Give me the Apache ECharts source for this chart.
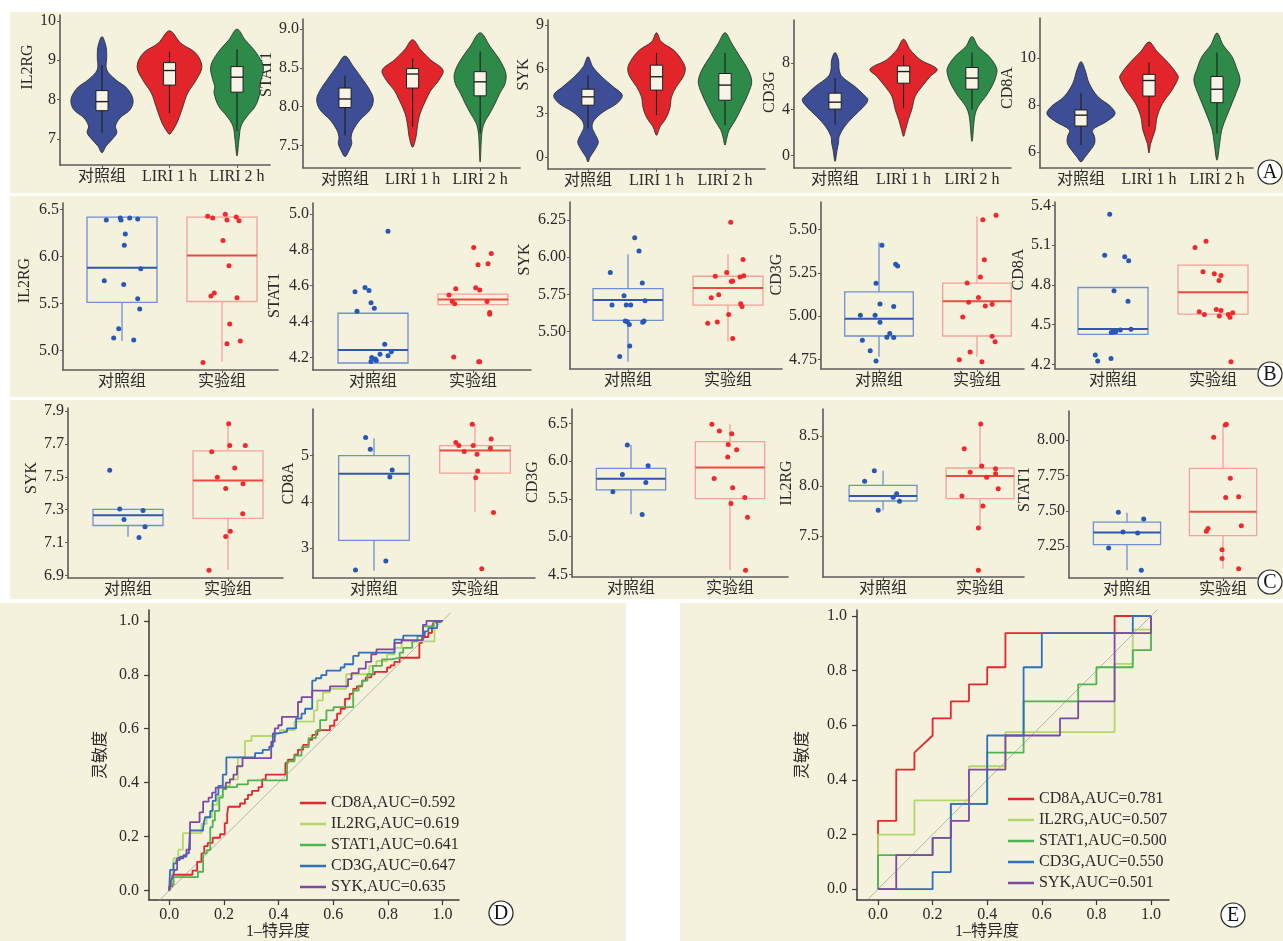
<!DOCTYPE html>
<html>
<head>
<meta charset="utf-8">
<script src="https://cdn.jsdelivr.net/npm/echarts@6/dist/echarts.min.js"></script>
<style>
html, body { margin: 0; padding: 0; background: #ffffff; }
#chart { width: 1283px; height: 941px; }
</style>
</head>
<body>
<div id="chart"></div>
<script>
// ---------------- data ----------------
const groupsA = ['对照组', 'LIRI 1 h', 'LIRI 2 h'];
const groupsBC = ['对照组', '实验组'];
const genesA = ['IL2RG', 'STAT1', 'SYK', 'CD3G', 'CD8A'];
const genesB = ['IL2RG', 'STAT1', 'SYK', 'CD3G', 'CD8A'];
const genesC = ['SYK', 'CD8A', 'CD3G', 'IL2RG', 'STAT1'];

// y tick labels per panel
const yTicksA = [[7, 8, 9, 10], [7.5, 8, 8.5, 9], [0, 3, 6, 9], [0, 4, 8], [6, 8, 10]];
const yTicksB = [[5, 5.5, 6, 6.5], [4.2, 4.4, 4.6, 4.8, 5.0], [5.5, 5.75, 6, 6.25], [4.75, 5, 5.25, 5.5], [4.2, 4.5, 4.8, 5.1, 5.4]];
const yTicksC = [[6.9, 7.1, 7.3, 7.5, 7.7, 7.9], [3, 4, 5], [4.5, 5, 5.5, 6, 6.5], [7.5, 8, 8.5], [7.25, 7.5, 7.75, 8]];
const rocTicks = [0, 0.2, 0.4, 0.6, 0.8, 1.0];

// violin outlines, one per group: [expression, half-width in group units], top to bottom
const violinA_IL2RG = [
  [[9.60,0],[9.35,.06],[9.10,.07],[8.76,.07],[8.51,.20],[8.29,.37],[8.0,.46],[7.75,.42],[7.54,.27],[7.33,.20],[7.16,.22],[6.99,.15],[6.82,.06],[6.65,0]],
  [[9.75,0],[9.43,.17],[9.18,.39],[8.84,.48],[8.51,.40],[8.17,.27],[7.83,.20],[7.58,.15],[7.37,.10],[7.2,.04],[7.12,0]],
  [[9.79,0],[9.52,.12],[9.18,.29],[8.84,.39],[8.51,.36],[8.34,.33],[8.17,.34],[7.83,.27],[7.58,.15],[7.33,.06],[6.99,.03],[6.57,0]]
];
const violinA_STAT1 = [
  [[8.65,0],[8.52,.12],[8.34,.27],[8.21,.37],[8.09,.42],[7.96,.37],[7.83,.22],[7.70,.12],[7.61,.09],[7.53,.10],[7.44,.06],[7.36,0]],
  [[8.86,0],[8.73,.12],[8.60,.27],[8.47,.45],[8.34,.39],[8.21,.27],[8.09,.20],[7.91,.11],[7.74,.07],[7.61,.05],[7.48,0]],
  [[8.95,0],[8.77,.15],[8.60,.29],[8.43,.38],[8.30,.37],[8.17,.29],[8.04,.22],[7.91,.14],[7.79,.06],[7.66,.025],[7.29,0]]
];
const violinA_SYK = [
  [[6.83,0],[6.15,.07],[5.47,.20],[4.78,.37],[4.21,.50],[3.64,.42],[3.07,.22],[2.5,.09],[2.05,.06],[1.59,.10],[1.03,.15],[0.57,.11],[0,.03],[-0.34,0]],
  [[8.47,0],[7.86,.07],[7.29,.25],[6.6,.37],[6.04,.42],[5.47,.39],[4.78,.29],[4.1,.22],[3.42,.20],[2.96,.17],[2.5,.12],[2.05,.05],[1.48,0]],
  [[8.47,0],[7.74,.10],[6.83,.22],[5.92,.34],[5.13,.39],[4.33,.34],[3.42,.25],[2.5,.15],[1.82,.06],[1.37,.03],[0.8,0]]
];
const violinA_CD3G = [
  [[8.93,0],[8.3,.05],[7.43,.06],[6.85,.10],[5.98,.29],[5.26,.42],[4.83,.48],[4.25,.42],[3.38,.27],[2.51,.14],[1.65,.06],[1.07,.05],[0.49,.03],[-0.52,0]],
  [[10.09,0],[9.16,.10],[8.29,.25],[7.49,.49],[6.85,.39],[5.98,.27],[5.12,.17],[3.96,.12],[3.09,.07],[2.23,.03],[1.65,0]],
  [[10.32,0],[9.45,.09],[8.58,.25],[7.57,.36],[6.85,.35],[5.98,.29],[5.12,.20],[4.25,.09],[3.38,.04],[1.21,0]]
];
const violinA_CD8A = [
  [[9.84,0],[9.49,.06],[8.92,.12],[8.35,.25],[7.93,.44],[7.62,.50],[7.29,.37],[6.94,.17],[6.65,.20],[6.37,.20],[6.09,.14],[5.8,.06],[5.59,0]],
  [[10.67,0],[10.27,.12],[9.77,.29],[9.28,.42],[9.14,.43],[8.64,.34],[8.07,.20],[7.5,.12],[6.94,.09],[6.37,.025],[5.97,0]],
  [[11.05,0],[10.55,.09],[10.06,.22],[9.56,.29],[9.06,.34],[8.57,.29],[8.07,.22],[7.5,.14],[6.94,.07],[6.37,.04],[5.66,0]]
];

// box statistics: [lower whisker, Q1, median, Q3, upper whisker]
const boxA_IL2RG = [[7.16,7.72,7.95,8.23,8.88],[7.66,8.37,8.74,8.94,9.22],[7.2,8.19,8.57,8.84,9.28]];
const boxA_STAT1 = [[7.63,7.99,8.10,8.24,8.40],[7.74,8.24,8.42,8.49,8.62],[7.66,8.14,8.32,8.45,8.71]];
const boxA_SYK   = [[1.94,3.53,4.1,4.62,5.58],[2.85,4.56,5.47,6.26,7.1],[2.16,3.87,4.9,5.69,7.1]];
const boxA_CD3G  = [[2.66,4.02,4.62,5.4,6.7],[4.1,6.27,7.28,7.77,8.73],[3.96,5.75,6.71,7.63,8.93]];
const boxA_CD8A  = [[6.3,7.11,7.57,7.79,8.5],[7.08,8.38,9.04,9.3,9.8],[6.79,8.1,8.67,9.21,10.23]];

// jittered sample points [group + jitter, expression]; first control, then experiment
const ptsB_IL2RG = [
  [[0.843,6.39],[0.983,6.41],[0.99,6.39],[1.077,6.41],[1.157,6.40],[1.033,6.24],[1.023,6.12],[1.187,5.87],[0.823,5.74],[1.017,5.70],[1.157,5.55],[1.177,5.44],[0.967,5.23],[0.917,5.13],[1.117,5.11]],
  [[1.857,6.43],[1.907,6.41],[2.033,6.45],[2.05,6.39],[2.143,6.42],[2.17,6.38],[2.01,6.17],[2.07,5.90],[1.89,5.58],[1.923,5.61],[2.15,5.56],[2.077,5.28],[2.05,5.07],[2.183,5.10],[1.81,4.87]]
];
const ptsB_STAT1 = [
  [[1.15,4.902],[0.82,4.566],[0.92,4.59],[0.96,4.573],[0.84,4.457],[0.98,4.505],[1.013,4.474],[1.117,4.274],[1.183,4.231],[1.15,4.209],[1.07,4.218],[0.987,4.2],[1.033,4.183],[1.023,4.191],[0.98,4.178]],
  [[2.007,4.812],[2.183,4.779],[2.05,4.716],[2.15,4.721],[1.827,4.583],[2.027,4.588],[2.067,4.575],[1.76,4.547],[1.793,4.511],[1.817,4.499],[2.14,4.511],[2.167,4.45],[2.167,4.44],[1.807,4.202],[2.057,4.176],[2.067,4.176]]
];
const ptsB_SYK = [
  [[1.067,6.131],[1.11,6.042],[0.823,5.898],[1.143,5.827],[0.96,5.742],[0.84,5.679],[0.983,5.679],[1.027,5.679],[1.17,5.708],[0.973,5.572],[0.993,5.567],[1.013,5.549],[1.147,5.563],[1.16,5.572],[1.017,5.404],[0.917,5.334]],
  [[2.027,6.234],[2.15,5.984],[1.987,5.898],[1.873,5.872],[2.157,5.876],[2.047,5.84],[2.033,5.836],[2.12,5.867],[1.833,5.728],[1.907,5.748],[2.127,5.688],[2.14,5.67],[2.007,5.616],[1.797,5.556],[1.893,5.565],[2.047,5.455]]
];
const ptsB_CD3G = [
  [[1.17,5.30],[1.19,5.29],[1.03,5.41],[0.97,5.19],[1.01,5.07],[1.15,5.055],[0.81,5.005],[0.96,5.005],[1.01,4.965],[1.11,4.90],[1.08,4.878],[1.15,4.876],[0.83,4.86],[0.91,4.80],[0.97,4.74]],
  [[2.06,5.558],[2.195,5.583],[2.075,5.326],[2.035,5.226],[1.90,5.191],[2.015,5.108],[1.915,5.08],[2.085,5.059],[2.155,5.069],[1.855,4.995],[2.155,4.883],[2.185,4.852],[1.93,4.793],[1.82,4.748],[2.05,4.736]]
];
const ptsB_CD8A = [
  [[0.967,5.332],[0.917,5.023],[1.117,5.011],[1.157,4.981],[1.01,4.755],[1.15,4.677],[0.983,4.441],[1.027,4.446],[1.073,4.459],[1.18,4.464],[1.003,4.444],[0.823,4.27],[0.847,4.225],[0.98,4.245]],
  [[1.82,5.081],[1.93,5.129],[1.90,4.898],[2.013,4.883],[2.08,4.87],[2.06,4.833],[1.863,4.597],[1.913,4.577],[2.033,4.614],[2.08,4.607],[2.063,4.564],[2.153,4.577],[2.17,4.556],[2.197,4.589],[2.18,4.22]]
];
const boxB_IL2RG = [[5.10,5.51,5.88,6.42,6.42],[4.88,5.52,6.01,6.42,6.42]];
const boxB_STAT1 = [[4.169,4.169,4.241,4.446,4.446],[4.494,4.494,4.522,4.553,4.553]];
const boxB_SYK   = [[5.298,5.576,5.713,5.789,6.019],[5.433,5.679,5.793,5.872,6.019]];
const boxB_CD3G  = [[4.765,4.885,4.984,5.14,5.427],[4.765,4.885,5.086,5.191,5.577]];
const boxB_CD8A  = [[4.426,4.426,4.466,4.78,4.78],[4.579,4.579,4.745,4.948,4.948]];

const ptsC_SYK = [
  [[0.817,7.541],[0.917,7.304],[1.15,7.296],[0.96,7.241],[1.17,7.196],[1.11,7.131]],
  [[2.007,7.824],[2.017,7.692],[2.173,7.692],[1.837,7.653],[2.067,7.555],[1.893,7.498],[2.15,7.459],[1.977,7.429],[2.147,7.276],[2.023,7.169],[1.977,7.137],[1.81,6.931]]
];
const ptsC_CD8A = [
  [[0.917,5.391],[0.963,5.138],[1.18,4.688],[1.157,4.536],[1.117,2.717],[0.817,2.522]],
  [[1.973,5.681],[1.81,5.283],[1.84,5.217],[1.983,5.217],[2.16,5.362],[2.153,5.159],[1.893,5.087],[2.02,5.029],[2.027,4.667],[2.007,4.522],[2.183,3.768],[2.067,2.551]]
];
const ptsC_CD3G = [
  [[0.963,6.212],[1.173,5.938],[0.913,5.823],[1.15,5.717],[0.817,5.593],[1.113,5.292]],
  [[1.817,6.487],[1.893,6.398],[2.017,6.363],[1.983,6.221],[2.067,6.15],[1.977,6.053],[1.84,5.77],[2.027,5.646],[2.15,5.518],[2.01,5.438],[2.177,5.257],[2.157,4.553]]
];
const ptsC_IL2RG = [
  [[0.81,8.047],[0.91,8.153],[0.95,7.757],[1.105,7.887],[1.14,7.923],[1.17,7.847]],
  [[2.007,8.62],[1.837,8.373],[2.017,8.2],[1.898,8.137],[2.16,8.173],[2.16,8.123],[2.068,8.087],[2.187,7.973],[1.813,7.9],[2.03,7.8],[1.983,7.58],[1.983,7.157]]
];
const ptsC_STAT1 = [
  [[0.91,7.491],[1.174,7.443],[0.958,7.351],[1.111,7.344],[0.809,7.238],[1.149,7.08]],
  [[2.024,8.106],[2.035,8.111],[1.903,8.019],[2.076,7.731],[2.028,7.594],[2.163,7.599],[1.844,7.375],[1.826,7.356],[2.191,7.394],[1.99,7.226],[1.99,7.163],[2.163,7.092]]
];
const boxC_SYK   = [[7.135,7.204,7.267,7.302,7.302],[6.933,7.247,7.478,7.659,7.824]];
const boxC_CD8A  = [[2.514,3.167,4.609,5.0,5.377],[3.783,4.623,5.109,5.217,5.681]];
const boxC_CD3G  = [[5.296,5.62,5.765,5.903,6.212],[4.553,5.504,5.916,6.257,6.487]];
const boxC_IL2RG = [[7.757,7.85,7.9,8.007,8.153],[7.58,7.873,8.1,8.18,8.623]];
const boxC_STAT1 = [[7.08,7.262,7.347,7.42,7.486],[7.092,7.325,7.493,7.8,8.106]];

// ROC curves, panel D: [1-specificity, sensitivity] after each rise
const rocD_CD8A = [[0,0],[0,0.016],[0.011,0.059],[0.085,0.074],[0.102,0.107],[0.118,0.138],[0.128,0.165],[0.141,0.177],[0.159,0.196],[0.186,0.209],[0.203,0.25],[0.212,0.284],[0.216,0.311],[0.259,0.323],[0.277,0.339],[0.288,0.355],[0.303,0.37],[0.327,0.384],[0.34,0.412],[0.353,0.43],[0.425,0.473],[0.434,0.485],[0.458,0.504],[0.471,0.522],[0.49,0.54],[0.51,0.559],[0.523,0.577],[0.542,0.595],[0.588,0.611],[0.604,0.632],[0.614,0.656],[0.627,0.674],[0.643,0.711],[0.66,0.729],[0.673,0.748],[0.686,0.757],[0.706,0.778],[0.719,0.79],[0.739,0.802],[0.752,0.811],[0.797,0.827],[0.81,0.835],[0.824,0.848],[0.843,0.863],[0.915,0.918],[0.925,0.94],[0.948,0.955],[0.961,0.979],[0.967,0.994],[0.98,1],[1,1]];
const rocD_IL2RG = [[0,0],[0.003,0.016],[0.010,0.028],[0.016,0.120],[0.033,0.152],[0.050,0.213],[0.118,0.248],[0.137,0.272],[0.157,0.318],[0.176,0.351],[0.196,0.388],[0.222,0.412],[0.251,0.494],[0.277,0.555],[0.301,0.573],[0.390,0.583],[0.405,0.595],[0.458,0.626],[0.529,0.668],[0.542,0.705],[0.562,0.735],[0.588,0.748],[0.647,0.802],[0.732,0.833],[0.758,0.851],[0.797,0.876],[0.824,0.900],[0.850,0.924],[0.970,1.0],[1,1]];
const rocD_STAT1 = [[0,0],[0.007,0.022],[0.016,0.050],[0.105,0.070],[0.124,0.138],[0.137,0.150],[0.150,0.235],[0.159,0.260],[0.167,0.296],[0.183,0.345],[0.196,0.376],[0.209,0.384],[0.248,0.394],[0.288,0.409],[0.431,0.479],[0.458,0.500],[0.484,0.532],[0.510,0.565],[0.536,0.591],[0.552,0.632],[0.575,0.668],[0.601,0.680],[0.673,0.741],[0.693,0.760],[0.706,0.778],[0.725,0.802],[0.745,0.833],[0.778,0.857],[0.810,0.863],[0.843,0.882],[0.856,0.900],[0.889,0.924],[0.908,0.943],[0.928,0.979],[0.967,0.998],[0.980,1],[1,1]];
const rocD_CD3G = [[0,0],[0.003,0.077],[0.016,0.101],[0.026,0.113],[0.039,0.126],[0.063,0.138],[0.072,0.150],[0.076,0.223],[0.124,0.235],[0.131,0.272],[0.150,0.296],[0.159,0.333],[0.170,0.357],[0.180,0.388],[0.196,0.430],[0.209,0.494],[0.314,0.510],[0.342,0.522],[0.366,0.534],[0.379,0.583],[0.399,0.589],[0.431,0.601],[0.464,0.638],[0.484,0.656],[0.497,0.674],[0.523,0.778],[0.536,0.787],[0.556,0.799],[0.575,0.815],[0.627,0.827],[0.641,0.839],[0.673,0.870],[0.693,0.882],[0.824,0.930],[0.856,0.945],[0.935,0.961],[0.948,0.973],[0.980,0.998],[1,1]];
const rocD_SYK = [[0,0],[0.007,0.040],[0.013,0.052],[0.020,0.077],[0.029,0.120],[0.052,0.132],[0.063,0.152],[0.076,0.254],[0.111,0.290],[0.124,0.330],[0.144,0.345],[0.157,0.363],[0.170,0.382],[0.207,0.400],[0.222,0.412],[0.235,0.430],[0.248,0.461],[0.268,0.491],[0.373,0.552],[0.386,0.601],[0.399,0.613],[0.412,0.644],[0.471,0.699],[0.484,0.717],[0.523,0.741],[0.588,0.757],[0.654,0.784],[0.667,0.806],[0.693,0.823],[0.719,0.848],[0.739,0.876],[0.758,0.894],[0.824,0.918],[0.850,0.928],[0.928,0.985],[0.941,1.0],[1,1]];

// ROC curves, panel E: full vertex lists
const rocE_CD8A = [[0,0],[0,0.25],[0.0667,0.25],[0.0667,0.4375],[0.1333,0.4375],[0.1333,0.5],[0.2,0.5625],[0.2,0.625],[0.2667,0.625],[0.2667,0.6875],[0.3333,0.6875],[0.3333,0.75],[0.4,0.75],[0.4,0.8125],[0.4667,0.8125],[0.4667,0.9375],[0.8667,0.9375],[0.8667,1],[1,1]];
const rocE_IL2RG = [[0,0],[0,0.2],[0.1333,0.2],[0.1333,0.325],[0.3333,0.325],[0.3333,0.45],[0.4667,0.45],[0.4667,0.575],[0.8667,0.575],[0.8667,0.825],[0.9333,0.825],[0.9333,0.95],[1,0.95],[1,1]];
const rocE_STAT1 = [[0,0],[0,0.125],[0.2,0.125],[0.2,0.1875],[0.2667,0.1875],[0.2667,0.3125],[0.4,0.3125],[0.4,0.5],[0.5333,0.5],[0.5333,0.6875],[0.7333,0.6875],[0.7333,0.75],[0.8,0.75],[0.8,0.8125],[0.9333,0.8125],[0.9333,0.875],[1,0.875],[1,1]];
const rocE_CD3G = [[0,0],[0.2,0],[0.2,0.0625],[0.2667,0.0625],[0.2667,0.3125],[0.4,0.3125],[0.4,0.5625],[0.5333,0.5625],[0.5333,0.8125],[0.6,0.8125],[0.6,0.9375],[0.9333,0.9375],[0.9333,1],[1,1]];
const rocE_SYK = [[0,0],[0.0667,0],[0.0667,0.125],[0.2,0.125],[0.2,0.1875],[0.2667,0.1875],[0.2667,0.25],[0.3333,0.25],[0.3333,0.4375],[0.4667,0.4375],[0.4667,0.5625],[0.6667,0.5625],[0.6667,0.625],[0.7333,0.625],[0.7333,0.6875],[0.8667,0.6875],[0.8667,0.9375],[1,0.9375],[1,1]];

const rocGenes = ['CD8A', 'IL2RG', 'STAT1', 'CD3G', 'SYK'];
const aucD = [0.592, 0.619, 0.641, 0.647, 0.635];
const aucE = [0.781, 0.507, 0.500, 0.550, 0.501];

// ---------------- styling / layout ----------------
const FONT = "'Liberation Serif', 'Times New Roman', 'Noto Sans CJK SC', serif";
const TXT = '#2a2a2a';
const AXIS = '#5c5c5c';
const BEIGE = '#f4f1dc';
const violinColors = ['#3d4e96', '#e2252a', '#2e8a49'];
const rocColors = ['#e5272d', '#b4d76c', '#4cb450', '#2f6fbf', '#7b4ba3'];
const ctrlStyle = { edge: '#6f90d0', median: '#2f58ae', point: '#2757b7' };
const expStyle = { edge: '#f4a29b', median: '#ee4a42', point: '#f4272c' };

// panel frames: y-axis x, x-axis right end, top, x-axis y, x range, y range, name gap, name shift (up)
const layoutA = [
  { left: 60,   right: 270,  top: 15, bottom: 165, x: [0.378, 3.489], y: [6.34, 10.15],  dec: 0, gap: 15, shift: 23 },
  { left: 303,  right: 520,  top: 19, bottom: 168, x: [0.378, 3.59],  y: [7.214, 9.126], dec: 1, gap: 23, shift: 19 },
  { left: 548,  right: 765,  top: 20, bottom: 169, x: [0.416, 3.584], y: [-0.82, 9.34],  dec: 0, gap: 15, shift: 20 },
  { left: 794,  right: 1011, top: 20, bottom: 168, x: [0.40, 3.57],   y: [-1.10, 11.76], dec: 0, gap: 15, shift: 2 },
  { left: 1040, right: 1253, top: 18, bottom: 168, x: [0.397, 3.53],  y: [5.33, 11.69],  dec: 0, gap: 19, shift: 5 }
];
const layoutB = [
  { left: 63,   right: 278,  top: 203, bottom: 370, x: [0.41, 2.56],  y: [4.79, 6.57],   dec: 1, gap: 30, shift: 6 },
  { left: 313,  right: 531,  top: 203, bottom: 370, x: [0.40, 2.58],  y: [4.13, 5.06],   dec: 1, gap: 30, shift: -9 },
  { left: 570,  right: 782,  top: 202, bottom: 369, x: [0.42, 2.54],  y: [5.25, 6.37],   dec: 2, gap: 37, shift: 26 },
  { left: 821,  right: 1024, top: 202, bottom: 369, x: [0.408, 2.48], y: [4.694, 5.66],  dec: 2, gap: 33, shift: 11 },
  { left: 1055, right: 1257, top: 202, bottom: 369, x: [0.42, 2.44],  y: [4.165, 5.425], dec: 1, gap: 28, shift: 16 }
];
const layoutC = [
  { left: 68,   right: 283,  top: 408, bottom: 578, x: [0.40, 2.55],   y: [6.884, 7.92],  dec: 1, gap: 25, shift: 15 },
  { left: 313,  right: 535,  top: 409, bottom: 578, x: [0.396, 2.594], y: [2.35, 6.01],   dec: 0, gap: 15, shift: 10 },
  { left: 572,  right: 788,  top: 409, bottom: 577, x: [0.404, 2.586], y: [4.465, 6.69],  dec: 1, gap: 31, shift: 11 },
  { left: 823,  right: 1024, top: 409, bottom: 577, x: [0.381, 2.453], y: [7.09, 8.77],   dec: 1, gap: 26, shift: 10 },
  { left: 1069, right: 1257, top: 411, bottom: 578, x: [0.396, 2.354], y: [7.026, 8.205], dec: 2, gap: 32, shift: 5 }
];

const option = {
  animation: false,
  backgroundColor: '#ffffff',
  grid: [], xAxis: [], yAxis: [], series: [], legend: [],
  graphic: { elements: [] }
};

function namePadding(shift) {
  return shift >= 0 ? [0, 0, 0, 2 * shift] : [0, -2 * shift, 0, 0];
}

function addGenePanel(p, gene, groups, yTicks) {
  const i = option.grid.length;
  const xTicks = groups.map((g, k) => k + 1);
  option.grid.push({ left: p.left, top: p.top, width: p.right - p.left, height: p.bottom - p.top });
  option.xAxis.push({
    type: 'value', gridIndex: i, min: p.x[0], max: p.x[1],
    axisLine: { show: true, onZero: false, lineStyle: { color: AXIS, width: 1.6 } },
    axisTick: { show: true, length: 3, customValues: xTicks, lineStyle: { color: AXIS } },
    axisLabel: { customValues: xTicks, formatter: v => groups[Math.round(v) - 1], margin: 4,
                 fontSize: 16, fontFamily: FONT, color: TXT },
    splitLine: { show: false }
  });
  option.yAxis.push({
    type: 'value', gridIndex: i, min: p.y[0], max: p.y[1],
    name: gene, nameLocation: 'middle', nameRotate: 90, nameGap: p.gap,
    nameTextStyle: { fontSize: 16, fontFamily: FONT, color: TXT, padding: namePadding(p.shift) },
    axisLine: { show: true, onZero: false, lineStyle: { color: AXIS, width: 1.6 } },
    axisTick: { show: true, length: 3, customValues: yTicks, lineStyle: { color: AXIS } },
    axisLabel: { customValues: yTicks, formatter: v => v.toFixed(p.dec), margin: 4,
                 fontSize: 16, fontFamily: FONT, color: TXT },
    splitLine: { show: false }
  });
  return i;
}

function violinSeries(i, shapes) {
  return {
    type: 'custom', xAxisIndex: i, yAxisIndex: i, z: 2, silent: true,
    data: shapes.map((s, k) => [k + 1]),
    renderItem(params, api) {
      const g = api.value(0);
      const knots = shapes[g - 1];
      const right = knots.map(([v, w]) => api.coord([g + w, v]));
      const left = knots.slice(1, -1).reverse().map(([v, w]) => api.coord([g - w, v]));
      return {
        type: 'polygon',
        shape: { points: right.concat(left), smooth: 0.35 },
        style: { fill: violinColors[g - 1], stroke: '#262626', lineWidth: 0.8 }
      };
    }
  };
}

function boxSeries(i, stats, opts) {
  return {
    type: 'custom', xAxisIndex: i, yAxisIndex: i, z: 3, silent: true,
    data: stats.map((s, k) => [k + 1].concat(s)),
    renderItem(params, api) {
      const g = api.value(0);
      const st = opts.styles[g - 1];
      const lo = api.coord([g, api.value(1)]);
      const q1 = api.coord([g - opts.half, api.value(2)]);
      const med = api.value(3);
      const q3 = api.coord([g + opts.half, api.value(4)]);
      const hi = api.coord([g, api.value(5)]);
      const mL = api.coord([g - opts.half, med]);
      const mR = api.coord([g + opts.half, med]);
      return {
        type: 'group',
        children: [
          { type: 'line', shape: { x1: hi[0], y1: hi[1], x2: hi[0], y2: q3[1] }, style: { stroke: st.whisker, lineWidth: opts.whiskerWidth } },
          { type: 'line', shape: { x1: lo[0], y1: lo[1], x2: lo[0], y2: q1[1] }, style: { stroke: st.whisker, lineWidth: opts.whiskerWidth } },
          { type: 'rect', shape: { x: q1[0], y: q3[1], width: q3[0] - q1[0], height: q1[1] - q3[1] },
            style: { fill: st.fill, stroke: st.edge, lineWidth: opts.edgeWidth } },
          { type: 'line', shape: { x1: mL[0], y1: mL[1], x2: mR[0], y2: mR[1] }, style: { stroke: st.median, lineWidth: opts.medianWidth } }
        ]
      };
    }
  };
}

// ---- row A: violin plots ----
const violinsA = [violinA_IL2RG, violinA_STAT1, violinA_SYK, violinA_CD3G, violinA_CD8A];
const boxesA = [boxA_IL2RG, boxA_STAT1, boxA_SYK, boxA_CD3G, boxA_CD8A];
const boxStyleA = { fill: '#f7f4e6', edge: '#1e1e1e', median: '#1e1e1e', whisker: '#1e1e1e' };
layoutA.forEach((p, k) => {
  const i = addGenePanel(p, genesA[k], groupsA, yTicksA[k]);
  option.series.push(violinSeries(i, violinsA[k]));
  option.series.push(boxSeries(i, boxesA[k], {
    half: 0.09, whiskerWidth: 1.1, edgeWidth: 1, medianWidth: 1.4,
    styles: [boxStyleA, boxStyleA, boxStyleA]
  }));
});

// ---- rows B and C: box plots with jittered points ----
const ctrlBox = { fill: 'none', edge: ctrlStyle.edge, median: ctrlStyle.median, whisker: ctrlStyle.edge };
const expBox = { fill: 'none', edge: expStyle.edge, median: expStyle.median, whisker: expStyle.edge };
function addBoxRow(layout, genes, ticks, boxes, points) {
  layout.forEach((p, k) => {
    const i = addGenePanel(p, genes[k], groupsBC, ticks[k]);
    option.series.push(boxSeries(i, boxes[k], {
      half: 0.35, whiskerWidth: 1.3, edgeWidth: 1.3, medianWidth: 2, styles: [ctrlBox, expBox]
    }));
    [ctrlStyle, expStyle].forEach((st, g) => {
      option.series.push({
        type: 'scatter', xAxisIndex: i, yAxisIndex: i, z: 4, silent: true,
        symbolSize: 5, data: points[k][g], itemStyle: { color: st.point, opacity: 1 }
      });
    });
  });
}
addBoxRow(layoutB, genesB, yTicksB,
  [boxB_IL2RG, boxB_STAT1, boxB_SYK, boxB_CD3G, boxB_CD8A],
  [ptsB_IL2RG, ptsB_STAT1, ptsB_SYK, ptsB_CD3G, ptsB_CD8A]);
addBoxRow(layoutC, genesC, yTicksC,
  [boxC_SYK, boxC_CD8A, boxC_CD3G, boxC_IL2RG, boxC_STAT1],
  [ptsC_SYK, ptsC_CD8A, ptsC_CD3G, ptsC_IL2RG, ptsC_STAT1]);

// ---- rows D and E: ROC curves ----
const rocPanels = [
  { left: 149, right: 459,  top: 610, bottom: 904, x: [-0.074, 1.06],  y: [-0.035, 1.04], diag: [-0.037, 1.03],
    curves: [rocD_CD8A, rocD_IL2RG, rocD_STAT1, rocD_CD3G, rocD_SYK], auc: aucD, step: 'end',
    yGap: 40, legendLeft: 295, legendTop: 790 },
  { left: 857, right: 1169, top: 610, bottom: 901, x: [-0.077, 1.066], y: [-0.040, 1.022], diag: [-0.037, 1.03],
    curves: [rocE_CD8A, rocE_IL2RG, rocE_STAT1, rocE_CD3G, rocE_SYK], auc: aucE, step: false,
    yGap: 46, legendLeft: 1003, legendTop: 786 }
];
rocPanels.forEach(p => {
  const i = option.grid.length;
  option.grid.push({ left: p.left, top: p.top, width: p.right - p.left, height: p.bottom - p.top });
  const axisCommon = {
    type: 'value', gridIndex: i,
    axisLine: { show: true, onZero: false, lineStyle: { color: '#3a3a3a', width: 1.5 } },
    axisTick: { show: true, length: 5, customValues: rocTicks, lineStyle: { color: '#3a3a3a', width: 1.2 } },
    axisLabel: { customValues: rocTicks, formatter: v => v.toFixed(1), fontSize: 16, fontFamily: FONT, color: TXT },
    splitLine: { show: false },
    nameLocation: 'middle',
    nameTextStyle: { fontSize: 16, fontFamily: FONT, color: TXT }
  };
  option.xAxis.push(Object.assign({}, axisCommon, {
    min: p.x[0], max: p.x[1], name: '1–特异度', nameGap: 22,
    axisLabel: Object.assign({}, axisCommon.axisLabel, { margin: 7 }),
    nameTextStyle: Object.assign({}, axisCommon.nameTextStyle, { padding: [0, 52, 0, 0] })
  }));
  option.yAxis.push(Object.assign({}, axisCommon, {
    min: p.y[0], max: p.y[1], name: '灵敏度', nameGap: p.yGap, nameRotate: 90,
    axisLabel: Object.assign({}, axisCommon.axisLabel, { margin: 10 })
  }));
  option.series.push({
    type: 'line', xAxisIndex: i, yAxisIndex: i, silent: true, symbol: 'none', z: 1,
    data: [[p.diag[0], p.diag[0]], [p.diag[1], p.diag[1]]],
    lineStyle: { color: '#a6a6a6', width: 0.8 }
  });
  const names = rocGenes.map((g, k) => g + ',AUC=' + p.auc[k].toFixed(3));
  p.curves.forEach((c, k) => {
    option.series.push({
      type: 'line', name: names[k], xAxisIndex: i, yAxisIndex: i, silent: true,
      symbol: 'none', step: p.step, data: c, z: 2 + k,
      lineStyle: { color: rocColors[k], width: 1.8 }, itemStyle: { color: rocColors[k] }
    });
  });
  option.legend.push({
    data: names, orient: 'vertical', left: p.legendLeft, top: p.legendTop,
    icon: 'rect', itemWidth: 26, itemHeight: 2.5, itemGap: 5, selectedMode: false,
    textStyle: { fontSize: 16, fontFamily: FONT, color: TXT, lineHeight: 16 }
  });
});

// ---- panel backgrounds and panel letters ----
const bg = [
  [10, 12, 1273, 181], [10, 196, 1273, 201], [10, 400, 1273, 199],
  [0, 603, 626, 338], [680, 603, 603, 338]
];
bg.forEach(([x, y, w, h]) => option.graphic.elements.push({
  type: 'rect', silent: true, z: -100, shape: { x, y, width: w, height: h }, style: { fill: BEIGE }
}));
[['A', 1270, 172], ['B', 1270, 374], ['C', 1270, 582], ['D', 501, 913], ['E', 1233, 915]].forEach(([t, x, y]) => {
  option.graphic.elements.push({
    type: 'group', x, y, z: 100, silent: true,
    children: [
      { type: 'circle', shape: { cx: 0, cy: 0, r: 12 }, style: { fill: '#ffffff', stroke: '#222222', lineWidth: 1.2 } },
      { type: 'text', style: { text: t, x: 0, y: 1, align: 'center', verticalAlign: 'middle',
        textAlign: 'center', textVerticalAlign: 'middle', font: '20px "Liberation Serif", serif', fill: '#111111' } }
    ]
  });
});

const chart = echarts.init(document.getElementById('chart'), null, { renderer: 'canvas' });
chart.setOption(option);
</script>
</body>
</html>
